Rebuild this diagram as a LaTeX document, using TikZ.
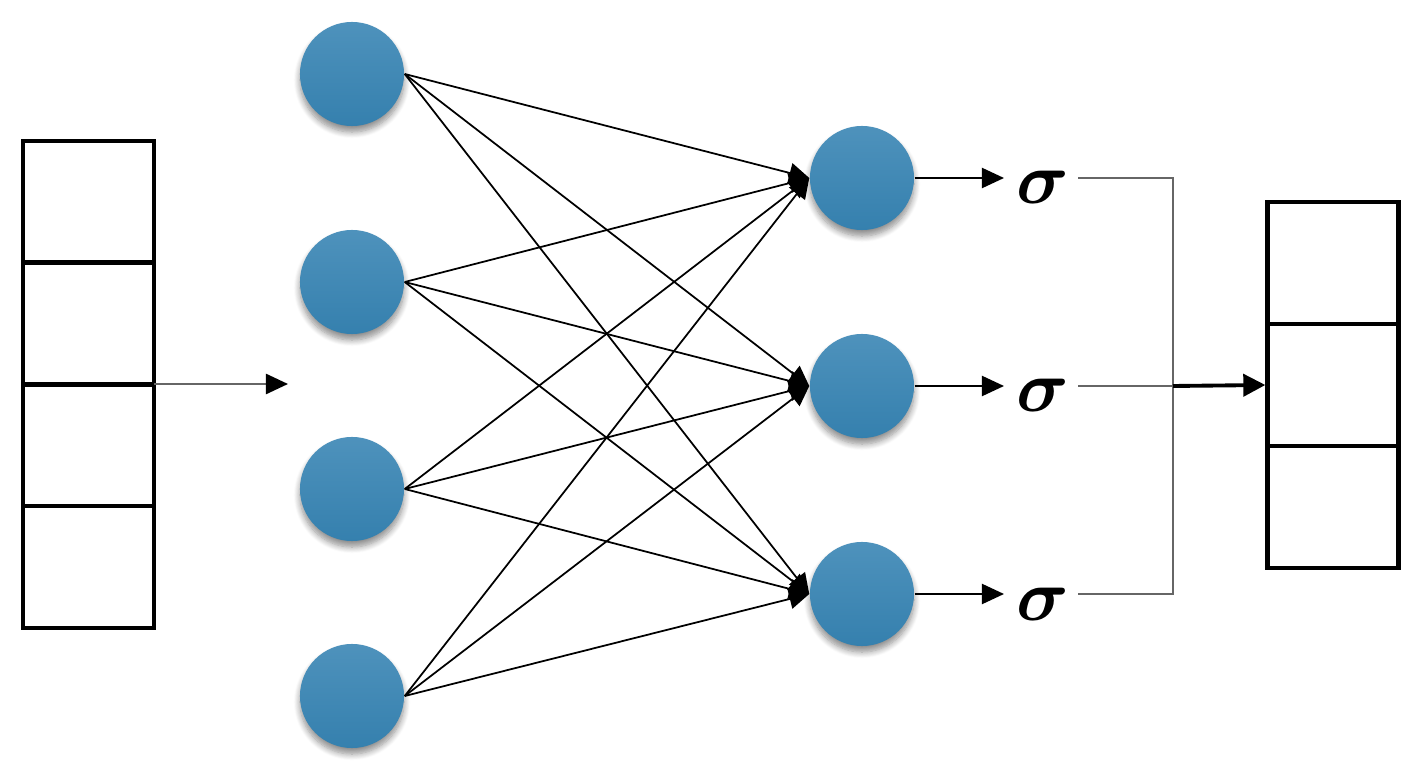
\documentclass[tikz,border=0pt]{standalone}
\usepackage{amsmath}
\usetikzlibrary{arrows.meta,shadows.blur}
\definecolor{nodetop}{HTML}{4E92BC}
\definecolor{nodebot}{HTML}{3580AE}
\begin{document}
\begin{tikzpicture}[x=0.01cm,y=-0.01cm,
  neuron/.style={circle,minimum size=1.04cm,inner sep=0pt,top color=nodetop,bottom color=nodebot,draw=none,
    blur shadow={shadow blur steps=8,shadow xshift=0pt,shadow yshift=-0.06cm,shadow opacity=45,shadow scale=1.0}},
  cell/.style={draw=black,line width=1.2pt,minimum width=1.31cm,inner sep=0pt},
  wire/.style={line width=0.5pt,-{Triangle[length=0.2cm,width=0.2cm]}},
  greyline/.style={draw=black!60,line width=0.7pt},
  sig/.style={font=\fontsize{22}{26}\selectfont,inner sep=0pt}]
\useasboundingbox (0,0) rectangle (1426,782);
% left vector
\foreach \i/\y in {1/202,2/323.5,3/445,4/567}{
  \node[cell,minimum height=1.22cm] (L\i) at (88.5,\y) {};
}
% right vector
\foreach \i/\y in {1/263,2/385,3/507}{
  \node[cell,minimum height=1.22cm] (R\i) at (1333,\y) {};
}
% input neurons
\foreach \i/\y in {1/74,2/282,3/489,4/696}{
  \node[neuron] (I\i) at (352,\y) {};
}
% hidden neurons
\foreach \j/\y in {1/178,2/386,3/594}{
  \node[neuron] (H\j) at (862,\y) {};
}
% input arrow
\coordinate (instart) at (154,384);
\coordinate (inend) at (288,384);
\draw[greyline,-{Triangle[length=0.22cm,width=0.2cm,color=black]}] (instart) -- (inend);
% connections
\foreach \i in {1,...,4}{
  \foreach \j in {1,2,3}{
    \draw[wire] (I\i.east) -- (H\j.west);
  }
}
% sigma nodes
\foreach \j/\y in {1/178,2/386,3/594}{
  \node[sig,anchor=base] (S\j) at (1043,\y+26) {$\boldsymbol{\sigma}$};
  \coordinate (SA\j) at (1004,\y);
  \draw[line width=0.6pt,-{Triangle[length=0.22cm,width=0.2cm]}] (H\j.east) -- (SA\j);
  \coordinate (SO\j) at (1078,\y);
}
\coordinate (J1) at (1173,178);
\coordinate (J2) at (1173,386);
\coordinate (J3) at (1173,594);
\draw[greyline] (SO1) -- (J1) -- (J3) -- (SO3);
\draw[greyline] (SO2) -- (J2);
\draw[line width=1.1pt,-{Triangle[length=0.22cm,width=0.22cm]}] (J2) -- (R2.west);
\end{tikzpicture}
\end{document}
